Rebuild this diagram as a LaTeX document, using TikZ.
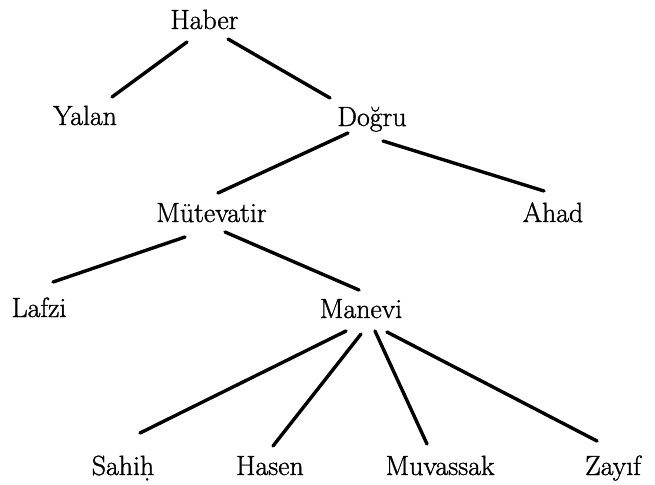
\documentclass[tikz,border=0pt]{standalone}
\usepackage{fontspec}
\newfontfamily\lblfont{Latin Modern Roman}[FakeBold=1.2]
\begin{document}
\begin{tikzpicture}[x=1pt,y=-1pt,
  lbl/.style={anchor=base,inner sep=0pt,font=\lblfont\fontsize{27.8}{33}\selectfont},
  edge/.style={line width=3.4pt,line cap=round}]
\useasboundingbox[fill=white] (0,0) rectangle (655,484);
\node[lbl] (haber) at (204.5,29) {Haber};
\node[lbl] (yalan) at (85,125) {Yalan};
\node[lbl] (dogru) at (372,126) {Doğru};
\node[lbl] (mutev) at (211.5,222) {Mütevatir};
\node[lbl] (ahad) at (553,222) {Ahad};
\node[lbl] (lafzi) at (39,317) {Lafzi};
\node[lbl] (manevi) at (361,318) {Manevi};
\node[lbl] (sahih) at (123,475) {Sahiḥ};
\node[lbl] (hasen) at (270,475) {Hasen};
\node[lbl] (muvas) at (440,475) {Muvassak};
\node[lbl] (zayif) at (613,475) {Zayıf};
\draw[edge] ([shift={(-17.5,13)}]haber.base) -- ([shift={(27,-28)}]yalan.base);
\draw[edge] ([shift={(23.5,10)}]haber.base) -- ([shift={(-42,-28)}]dogru.base);
\draw[edge] ([shift={(-24,7)}]dogru.base) -- ([shift={(6.5,-29)}]mutev.base);
\draw[edge] ([shift={(11,15)}]dogru.base) -- ([shift={(-9,-31)}]ahad.base);
\draw[edge] ([shift={(-26.5,15)}]mutev.base) -- ([shift={(14,-35)}]lafzi.base);
\draw[edge] ([shift={(13.5,10)}]mutev.base) -- ([shift={(-2,-28)}]manevi.base);
\draw[edge] ([shift={(-15,13)}]manevi.base) -- ([shift={(17,-42)}]sahih.base);
\draw[edge] ([shift={(0,16)}]manevi.base) -- ([shift={(3,-29)}]hasen.base);
\draw[edge] ([shift={(14,13)}]manevi.base) -- ([shift={(-13,-31)}]muvas.base);
\draw[edge] ([shift={(26,14)}]manevi.base) -- ([shift={(-16,-34)}]zayif.base);
\end{tikzpicture}
\end{document}
